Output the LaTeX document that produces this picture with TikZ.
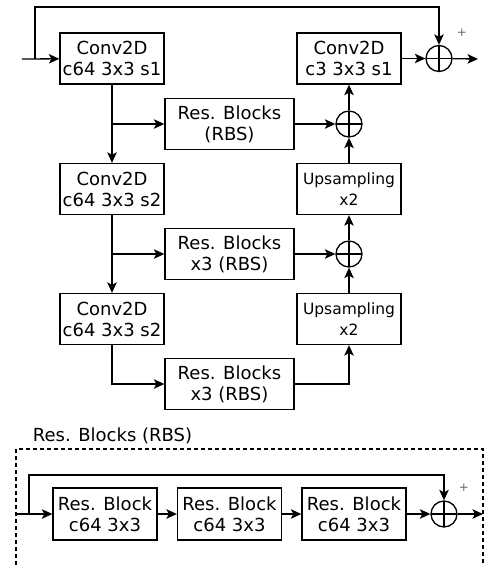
\documentclass[tikz,border=0pt]{standalone}
\usepackage{fontspec}
\setmainfont{DejaVu Sans}
\usetikzlibrary{arrows.meta}

\begin{document}
\begin{tikzpicture}[x=1pt,y=-1pt,line width=1.3pt,>={Stealth[length=10.5pt,width=9.5pt,inset=2.5pt]},node distance=65pt]
		\tikzstyle{block}=[draw,rectangle,minimum width=104pt,minimum height=51pt,align=center,inner sep=1pt,font=\fontsize{18}{21}\selectfont]
		\tikzstyle{rbs}=[block,minimum width=129pt]
		\tikzstyle{upblock}=[block,font=\fontsize{15.5}{21}\selectfont]
		\tikzstyle{sum}=[draw,circle,minimum size=26pt,inner sep=0pt,path picture={\draw (path picture bounding box.north) -- (path picture bounding box.south) (path picture bounding box.west) -- (path picture bounding box.east);}]
		\tikzstyle{plus}=[font=\fontsize{12}{12}\selectfont,text=black!60]
		
		\useasboundingbox (0,0) rectangle (487,565);
		
		\node[block] (conv1) at (112,58.5) {Conv2D\\c64 3x3 s1};
		\node[block] (convout) [right of=conv1, node distance=237pt] {Conv2D\\c3 3x3 s1};
		\node[sum] (sumout) [right of=convout, node distance=90pt] {};
		\node[sum] (sum1) [below of=convout, node distance=65.5pt] {};
		\node[rbs] (rbs1) [left of=sum1, node distance=119.5pt] {Res. Blocks\\(RBS)};
		\node[upblock] (up1) [below of=sum1] {Upsampling\\x2};
		\node[block] (conv2) [below of=conv1, node distance=130.5pt] {Conv2D\\c64 3x3 s2};
		\node[sum] (sum2) [below of=up1] {};
		\node[rbs] (rbs2) [left of=sum2, node distance=119.5pt] {Res. Blocks\\x3 (RBS)};
		\node[upblock] (up2) [below of=sum2] {Upsampling\\x2};
		\node[block] (conv3) [below of=conv2, node distance=130pt] {Conv2D\\c64 3x3 s2};
		\node[rbs] (rbs3) [below of=rbs2, node distance=130pt] {Res. Blocks\\x3 (RBS)};
		\node[plus] (plustop) at (462,33) {+};
		
		\coordinate (in) at (22,59);
		\coordinate (skip) at (35,59);
		\coordinate (top) at (35,7);
		\coordinate (out) at (478,59);
		
		\draw[->] (in) -- (conv1);
		\draw[->] (skip) -- (top) -| (sumout);
		\draw[->] (conv1) -- (conv2);
		\draw[->] (conv1 |- rbs1) -- (rbs1);
		\draw[->] (rbs1) -- (sum1);
		\draw[->] (sum1) -- (convout);
		\draw[->] (up1) -- (sum1);
		\draw[->] (convout) -- (sumout);
		\draw[->] (sumout) -- (out);
		\draw[->] (conv2) -- (conv3);
		\draw[->] (conv2 |- rbs2) -- (rbs2);
		\draw[->] (rbs2) -- (sum2);
		\draw[->] (sum2) -- (up1);
		\draw[->] (up2) -- (sum2);
		\draw[->] (conv3) |- (rbs3);
		\draw[->] (rbs3) -| (up2);
		
		\node[font=\fontsize{18}{21}\selectfont] (rbslabel) at (112.5,436) {Res. Blocks (RBS)};
		\draw[line width=1.1pt,dash pattern=on 4pt off 3pt] (16,565) -- (16,449) -- (483,449) -- (483,565);
		
		\node[block,minimum height=52pt] (rb1) at (105,514) {Res. Block\\c64 3x3};
		\node[block,minimum height=52pt] (rb2) [right of=rb1, node distance=124.5pt] {Res. Block\\c64 3x3};
		\node[block,minimum height=52pt] (rb3) [right of=rb2, node distance=124.5pt] {Res. Block\\c64 3x3};
		\node[sum] (sumrb) [right of=rb3, node distance=90pt] {};
		\node[plus] (plusrb) at (464,488) {+};
		
		\coordinate (rbin) at (16,514);
		\coordinate (rbskip) at (29,514);
		\coordinate (rbtop) at (29,475);
		\coordinate (rbout) at (483,514);
		
		\draw[->] (rbin) -- (rb1);
		\draw[->] (rbskip) -- (rbtop) -| (sumrb);
		\draw[->] (rb1) -- (rb2);
		\draw[->] (rb2) -- (rb3);
		\draw[->] (rb3) -- (sumrb);
		\draw[->] (sumrb) -- (rbout);
		
	\end{tikzpicture}
\end{document}
